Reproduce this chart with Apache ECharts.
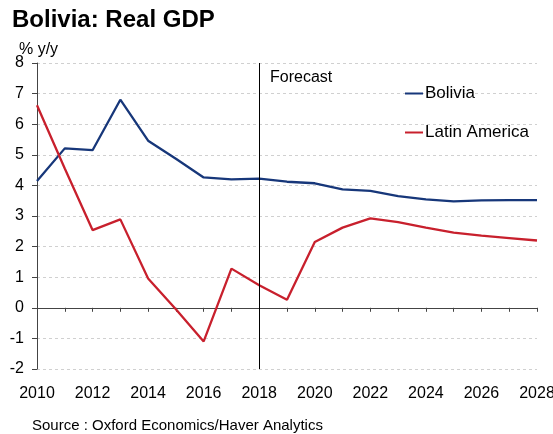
<!DOCTYPE html>
<html><head><meta charset="utf-8">
<script src="https://cdn.jsdelivr.net/npm/echarts@6/dist/echarts.min.js"></script>
<style>html,body{margin:0;padding:0;background:#fff}#c{width:553px;height:434px}</style>
</head><body><div id="c"></div>
<script>
const years = ['2010','2011','2012','2013','2014','2015','2016','2017','2018','2019','2020','2021','2022','2023','2024','2025','2026','2027','2028'];
const bolivia = [4.14,5.21,5.15,6.8,5.46,4.87,4.26,4.2,4.22,4.12,4.07,3.87,3.82,3.65,3.54,3.48,3.51,3.52,3.52];
const latam = [6.62,4.55,2.54,2.89,0.96,-0.05,-1.1,1.28,0.74,0.26,2.15,2.62,2.92,2.8,2.62,2.46,2.36,2.28,2.2];
const yTicks = {min:-2, max:8, interval:1};
const forecastYear = '2018';
const font = 'Liberation Sans, Arial, sans-serif';
const chart = echarts.init(document.getElementById('c'));
chart.setOption({
  animation:false,
  textStyle:{fontFamily:font},
  title:[
    {text:'Bolivia: Real GDP', left:7, top:3, textStyle:{fontSize:24, fontWeight:'bold', color:'#000', fontFamily:font}},
    {text:'% y/y', left:14, top:37, textStyle:{fontSize:16, fontWeight:'normal', color:'#000', fontFamily:font}},
    {text:'Forecast', left:265, top:65, textStyle:{fontSize:16, fontWeight:'normal', color:'#000', fontFamily:font}},
    {text:'Source : Oxford Economics/Haver Analytics', left:27, top:413, textStyle:{fontSize:15, fontWeight:'normal', color:'#000', fontFamily:font}}
  ],
  legend:{orient:'vertical', left:400, top:80, itemGap:22, itemWidth:18, itemHeight:2,
    icon:'rect', textStyle:{fontSize:17, color:'#000', padding:[0,0,0,-3]},
    data:['Bolivia','Latin America']},
  grid:{left:37, right:16, top:63, bottom:65, containLabel:false, outerBoundsMode:'none'},
  xAxis:[
    {type:'category', data:years, boundaryGap:false, position:'bottom',
     axisLine:{show:false, onZero:false}, axisTick:{show:false},
     axisLabel:{interval:1, fontSize:16, color:'#000', margin:17}, splitLine:{show:false}},
    {type:'category', data:years, boundaryGap:false, position:'bottom',
     axisLine:{show:true, onZero:true, lineStyle:{color:'#444', width:1}},
     axisTick:{show:true, inside:false, length:4, interval:0, alignWithLabel:true, lineStyle:{color:'#444'}},
     axisLabel:{show:false}, splitLine:{show:false}}
  ],
  yAxis:{type:'value', min:yTicks.min, max:yTicks.max, interval:yTicks.interval,
    axisLine:{show:true, lineStyle:{color:'#444'}}, axisTick:{show:true, length:5, lineStyle:{color:'#444'}},
    axisLabel:{fontSize:16, color:'#000', margin:13},
    splitLine:{show:true, lineStyle:{color:'#d0d0d0', type:[3,3], width:1}}},
  series:[
    {name:'Bolivia', type:'line', data:bolivia, symbol:'none', color:'#17377A',
     lineStyle:{width:2.3, color:'#17377A'},
     markLine:{silent:true, symbol:'none', label:{show:false},
       lineStyle:{color:'#000', width:1, type:'solid'}, data:[{xAxis:forecastYear}]}},
    {name:'Latin America', type:'line', data:latam, symbol:'none', color:'#C8202D',
     lineStyle:{width:2.3, color:'#C8202D'}}
  ]
});
</script></body></html>
